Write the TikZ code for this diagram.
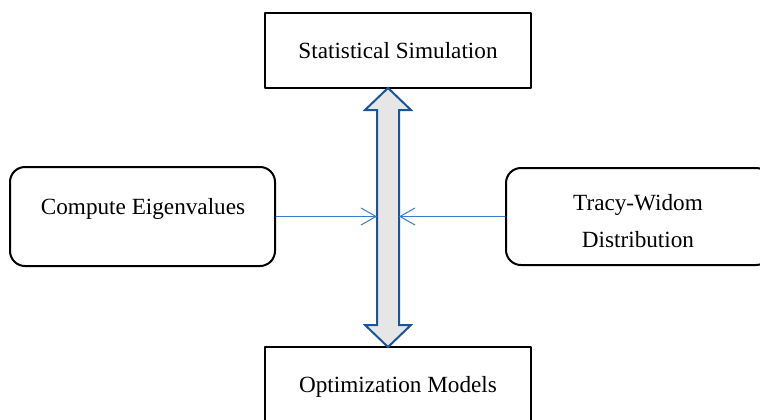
\documentclass[tikz,border=0pt]{standalone}
\usepackage{fontspec}
\setmainfont{Liberation Serif}
\usepackage{tikz}
\usetikzlibrary{arrows.meta, calc}

\definecolor{arrowblue}{RGB}{25,85,155}
\definecolor{linkblue}{RGB}{55,125,205}
\definecolor{shaftgray}{RGB}{230,230,230}

\begin{document}
\begin{tikzpicture}[line cap=round,line join=round,x=0.5pt,y=-0.5pt,
  box/.style={draw=black,line width=1pt,inner sep=0pt,font=\fontsize{11.6}{14}\selectfont},
  rbox/.style={box,rounded corners=7.5pt},
  link/.style={draw=linkblue,line width=0.5pt,-{Straight Barb[length=7.5pt,width=8.5pt]}},
  dbl/.style={draw=arrowblue,line width=1pt,fill=shaftgray,line join=miter},
  txt/.style={inner sep=0pt,font=\fontsize{11.6}{14}\selectfont}]
\useasboundingbox (0,0) rectangle (760,419);
\clip (0,0) rectangle (760,419);

% boxes
\node[box,minimum width=133pt,minimum height=37.5pt] (sim) at (398,50.5) {Statistical Simulation};
\node[box,minimum width=133pt,minimum height=40pt] (opt) at (398,387) {Optimization Models};
\node[rbox,minimum width=132.5pt,minimum height=49.5pt] (eig) at (142.5,216.5) {};
\node[rbox,minimum width=132.5pt,minimum height=48.5pt] (tw) at (638.5,216.5) {};

\node[txt] (eigtext) at (143,209) {Compute Eigenvalues};
\node[txt] (twtext1) at (638,205) {Tracy-Widom};
\node[txt] (twtext2) at (638,240) {Distribution};

% double arrow between the two boxes
\coordinate (up) at (388,88);
\coordinate (dn) at (388,347);
\draw[dbl] (up) -- ++(23,22) -- ++(-12,0) -- ($(dn)+(11,-22)$) -- ++(12,0) -- (dn)
  -- ++(-23,-22) -- ++(12,0) -- ($(up)+(-11,22)$) -- ++(-12,0) -- cycle;

% side inputs
\coordinate (sl) at (377,216.5);
\coordinate (sr) at (399,216.5);
\draw[link] (eig.east) -- (sl);
\draw[link] (tw.west) -- (sr);

\end{tikzpicture}
\end{document}
